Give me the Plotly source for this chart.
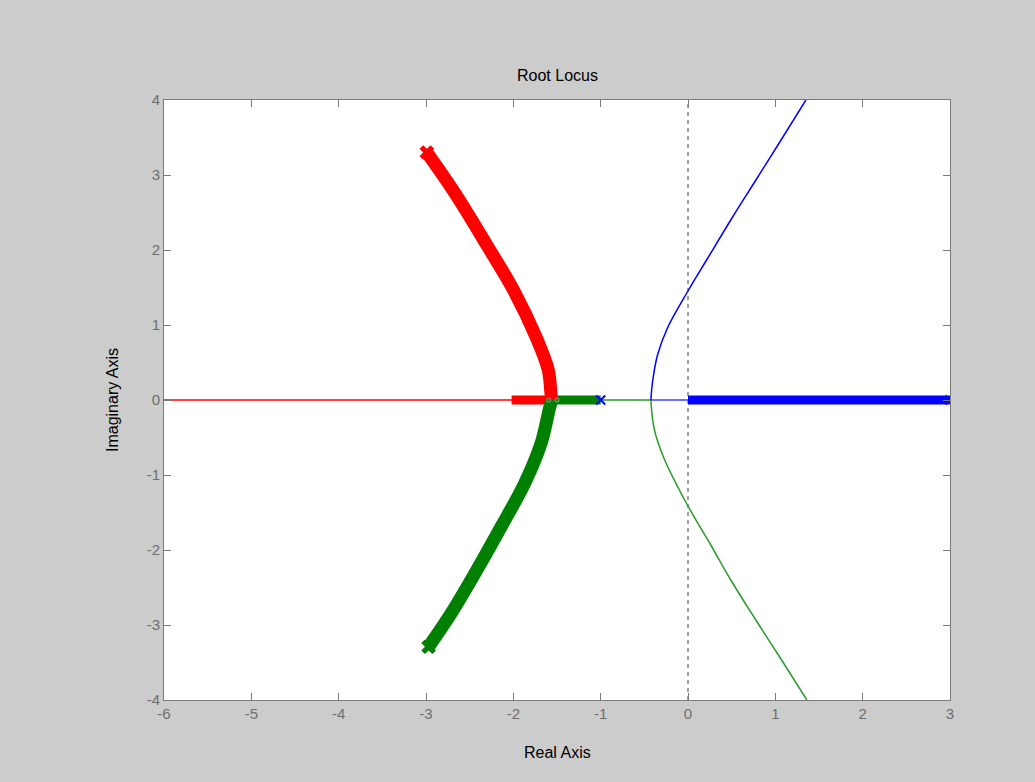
import plotly.graph_objects as go

# ---- data ----
red_thin_re = [-6.0, -2.0]
red_thin_im = [0.0, 0.0]

red_real_re = [-2.02, -1.56]
red_real_im = [0.0, 0.0]
red_curve_re = [-1.56, -1.57, -1.60, -1.74, -2.00, -2.29, -2.67, -2.99]
red_curve_im = [0.0, 0.10, 0.40, 0.84, 1.47, 2.04, 2.76, 3.30]

green_real_re = [-1.56, -1.0]
green_real_im = [0.0, 0.0]
green_curve_re = [-1.56, -1.59, -1.68, -1.87, -2.14, -2.40, -2.71, -2.97]
green_curve_im = [0.0, -0.13, -0.57, -1.11, -1.69, -2.23, -2.84, -3.29]

green_thin_real_re = [-1.0, -0.425]
green_thin_real_im = [0.0, 0.0]
green_thin_re = [-0.425, -0.388, -0.274, -0.007, 0.259, 0.500, 0.791, 1.057, 1.361]
green_thin_im = [0.0, -0.38, -0.78, -1.40, -1.93, -2.42, -2.96, -3.44, -4.00]

blue_thin_real_re = [-0.425, 0.0]
blue_thin_real_im = [0.0, 0.0]
blue_thin_re = [-0.425, -0.406, -0.349, -0.235, -0.007, 0.225, 0.500, 0.765, 1.030, 1.350]
blue_thin_im = [0.0, 0.24, 0.60, 0.96, 1.44, 1.89, 2.42, 2.91, 3.40, 4.00]

blue_real_re = [0.0, 3.0]
blue_real_im = [0.0, 0.0]

pole_re = [-1.0, 3.0]
pole_im = [0.0, 0.0]

breakaway_re = [-1.595, -1.50]
breakaway_im = [0.0, 0.0]

x_ticks = [-6, -5, -4, -3, -2, -1, 0, 1, 2, 3]
y_ticks = [-4, -3, -2, -1, 0, 1, 2, 3, 4]

RED = "#ff0000"
GREEN = "#008000"
BLUE = "#0000ff"

fig = go.Figure()

def line(xs, ys, color, width, shape="linear"):
    fig.add_trace(go.Scatter(x=xs, y=ys, mode="lines",
                             line=dict(color=color, width=width, shape=shape),
                             hoverinfo="skip", showlegend=False))

# thin locus branches
line(red_thin_re, red_thin_im, RED, 1.5)
line(green_thin_real_re, green_thin_real_im, "#2a9a2a", 1.5)
line(green_thin_re, green_thin_im, "#2a9a2a", 1.5, "spline")
line(blue_thin_real_re, blue_thin_real_im, "#4040ff", 1.5)
line(blue_thin_re, blue_thin_im, BLUE, 1.5, "spline")

# thick (dense marker) portions
line(red_real_re, red_real_im, RED, 9)
line(green_real_re, green_real_im, GREEN, 9)
line(red_curve_re, red_curve_im, RED, 13, "spline")
line(green_curve_re, green_curve_im, GREEN, 13, "spline")
line(blue_real_re, blue_real_im, BLUE, 9)

# end markers of thick bands
fig.add_trace(go.Scatter(x=[red_curve_re[-1]], y=[red_curve_im[-1]], mode="markers",
                         marker=dict(symbol="x", size=13, color=RED, line=dict(width=0)),
                         hoverinfo="skip", showlegend=False))
fig.add_trace(go.Scatter(x=[green_curve_re[-1]], y=[green_curve_im[-1]], mode="markers",
                         marker=dict(symbol="x", size=13, color=GREEN, line=dict(width=0)),
                         hoverinfo="skip", showlegend=False))
fig.add_trace(go.Scatter(x=pole_re, y=pole_im, mode="markers",
                         marker=dict(symbol="x-thin", size=9, color=BLUE,
                                     line=dict(color=BLUE, width=2)),
                         hoverinfo="skip", showlegend=False, cliponaxis=True))
fig.add_trace(go.Scatter(x=breakaway_re, y=breakaway_im, mode="markers",
                         marker=dict(symbol="circle-open", size=4, color="#9a9a9a",
                                     line=dict(color="#9a9a9a", width=1)),
                         hoverinfo="skip", showlegend=False))

# dashed imaginary axis line
fig.add_shape(type="line", x0=0, x1=0, y0=-4, y1=4, xref="x", yref="y",
              line=dict(color="#444444", width=1, dash="4px,4px"), layer="below")

axis_common = dict(showgrid=False, zeroline=False, showline=True, linecolor="#7a7a7a",
                   linewidth=1, mirror="ticks", ticks="inside", ticklen=7,
                   tickcolor="#7a7a7a", tickwidth=1,
                   tickfont=dict(family="Liberation Sans, Arial, sans-serif", size=15,
                                 color="#6e6e6e"))

fig.update_xaxes(range=[-6, 3], tickvals=x_ticks, ticktext=[str(v) for v in x_ticks],
                 **axis_common)
fig.update_yaxes(range=[-4, 4], tickvals=y_ticks, ticktext=[str(v) for v in y_ticks],
                 **axis_common)

fig.update_layout(
    width=1035, height=782,
    paper_bgcolor="#cccccc", plot_bgcolor="#ffffff",
    margin=dict(l=164, r=85, t=100, b=82),
    showlegend=False,
    annotations=[
        dict(text="Root Locus", xref="paper", yref="paper", x=0.5, y=1, yshift=25,
             showarrow=False, yanchor="middle",
             font=dict(family="Liberation Sans, Arial, sans-serif", size=16, color="#000000")),
        dict(text="Real Axis", xref="paper", yref="paper", x=0.5, y=0, yshift=-52,
             showarrow=False, yanchor="middle",
             font=dict(family="Liberation Sans, Arial, sans-serif", size=16, color="#000000")),
        dict(text="Imaginary Axis", xref="paper", yref="paper", x=0, y=0.5, xshift=-52,
             showarrow=False, xanchor="center", yanchor="middle", textangle=-90,
             font=dict(family="Liberation Sans, Arial, sans-serif", size=16, color="#000000")),
    ],
)

fig.write_html("out.html",
               config={"displayModeBar": False},
               post_script="document.body.style.margin='0';"
                           "document.body.style.background='#cccccc';"
                           "document.body.style.overflow='hidden';")
